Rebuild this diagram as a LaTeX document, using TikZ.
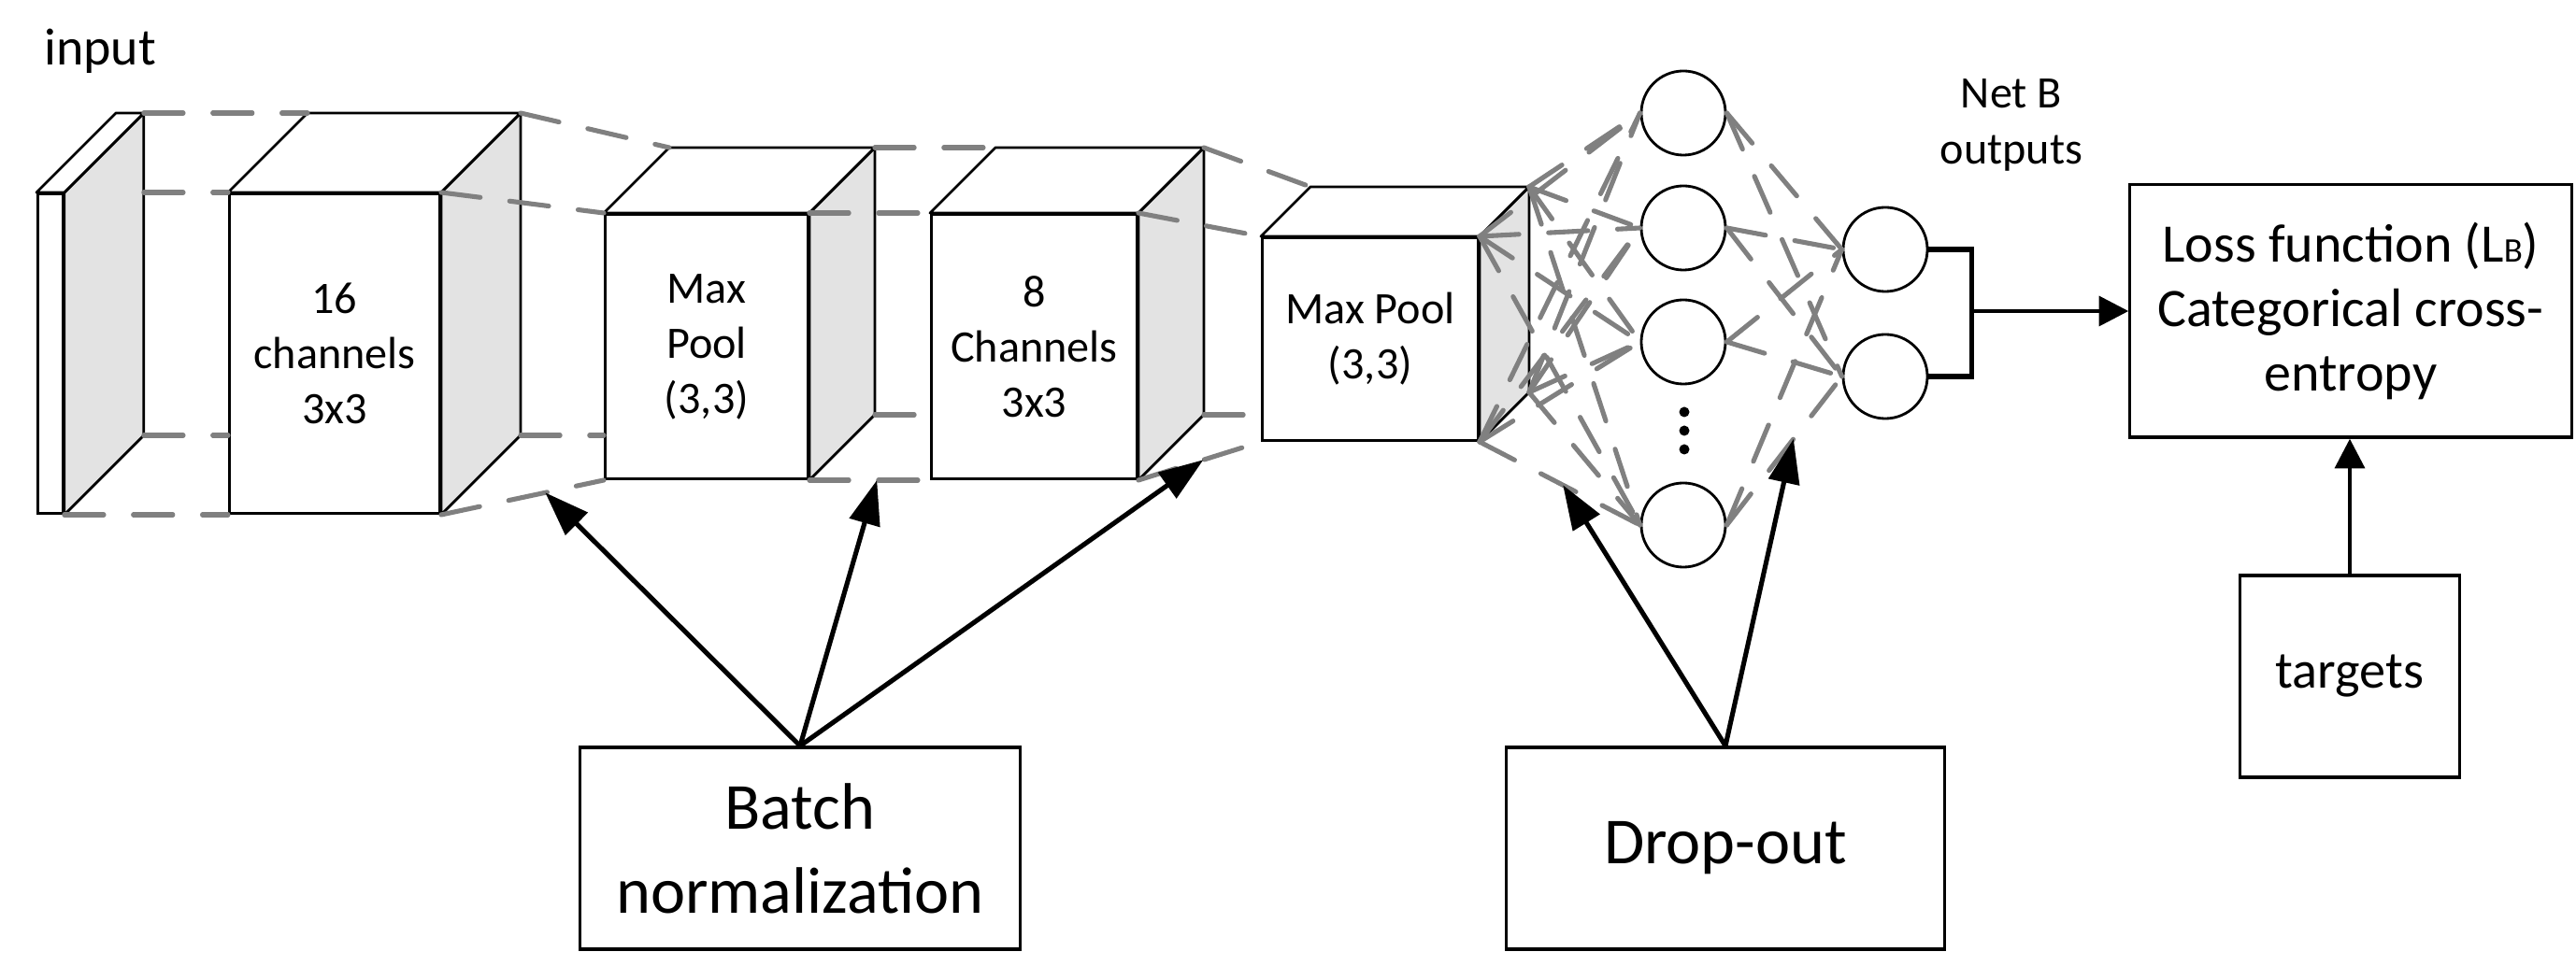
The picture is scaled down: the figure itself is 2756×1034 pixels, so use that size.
\documentclass[tikz,border=0pt]{standalone}
\usepackage{fontspec}
\setmainfont{Carlito}
\usetikzlibrary{arrows.meta}

\definecolor{linkgray}{RGB}{128,128,128}
\definecolor{sidegray}{RGB}{227,227,227}

\tikzset{
  face/.style={draw, line width=0.8pt, fill=white, inner sep=0pt, anchor=north west,
    align=center, font=\fontsize{13.7}{16.8}\selectfont},
  side/.style={draw, line width=0.8pt, fill=sidegray, line join=round},
  link/.style={draw=linkgray, line width=1.45pt, line cap=round, dash pattern=on 12pt off 9pt},
  neuron/.style={draw, circle, line width=0.8pt, minimum size=0.9cm, inner sep=0pt},
  dotnode/.style={circle, fill, minimum size=0.11cm, inner sep=0pt},
  box/.style={draw, line width=0.9pt, inner sep=0pt, align=center},
  push/.style={-{Triangle[length=13.5pt,width=9.4pt]}, line width=1.45pt},
  feed/.style={-{Triangle[length=9pt,width=9pt]}, line width=1.3pt},
}

% side and top of a layer: node name, depth
\newcommand{\layerback}[2]{%
  \draw[side] (#1.north east) -- ++(#2,-#2) coordinate (#1-btr)
    -- ([shift={(#2,-#2)}]#1.south east) coordinate (#1-bbr) -- (#1.south east) -- cycle;
  \draw[side, fill=white] (#1.north west) -- ++(#2,-#2) coordinate (#1-btl)
    -- (#1-btr) -- (#1.north east) -- cycle;
}

\begin{document}
\begin{tikzpicture}[x=0.01cm, y=-0.01cm]
	\useasboundingbox (0,0) rectangle (2756,1034);

	% layers
	\node[face, minimum width=0.27cm, minimum height=3.42cm] (in) at (39,206) {};
	\node[face, minimum width=2.25cm, minimum height=3.42cm] (c1) at (244,206) {16\\channels\\3x3};
	\node[face, minimum width=2.17cm, minimum height=2.83cm] (m1) at (646,228) {Max\\Pool\\(3,3)};
	\node[face, minimum width=2.20cm, minimum height=2.83cm] (c2) at (995,228) {8\\Channels\\3x3};
	\node[face, minimum width=2.31cm, minimum height=2.17cm] (m2) at (1349,253) {Max Pool\\(3,3)};
	\layerback{in}{85}
	\layerback{c1}{85}
	\layerback{m1}{70}
	\layerback{c2}{70}
	\layerback{m2}{53}

	\node[anchor=base west, font=\fontsize{15.9}{19}\selectfont] (inlabel) at (35,70) {input};

	% links between layers
	\draw[link] (in-btr) -- (c1-btl);
	\draw[link] (in-btr |- c1.north west) -- (c1.north west);
	\draw[link] (in-bbr) -- (c1.west |- in-bbr);
	\draw[link] (in.south east) -- (c1.south west);

	\draw[link] (c1-btr) -- (m1-btl);
	\draw[link] (c1.north east) -- (m1.north west);
	\draw[link] (c1-bbr) -- (m1.west |- c1-bbr);
	\draw[link] (c1.south east) -- coordinate[pos=.64] (b1) (m1.south west);

	\draw[link] (m1-btr) -- (c2-btl);
	\draw[link] (m1.north east) -- (c2.north west);
	\draw[link] (m1-bbr) -- (c2.west |- m1-bbr);
	\draw[link] (m1.south east) -- coordinate[pos=.56] (b2) (c2.south west);

	\draw[link] (c2-btr) -- (m2-btl);
	\draw[link] (c2.north east) -- (m2.north west);
	\draw[link] (c2-bbr) -- (m2.west |- c2-bbr);
	\draw[link] (c2.south east) -- coordinate[pos=.53] (b3) (m2.south west);

	% dense part
	\node[neuron] (h1) at (1801,121) {};
	\node[neuron] (h2) at (1801,244) {};
	\node[neuron] (h3) at (1801,366) {};
	\node[neuron] (h4) at (1801,562) {};
	\node[dotnode] (dot1) at (1802,441) {};
	\node[dotnode] (dot2) at (1802,461) {};
	\node[dotnode] (dot3) at (1802,481) {};
	\node[neuron] (o1) at (2017,267) {};
	\node[neuron] (o2) at (2017,403) {};

	\foreach \c in {m2-btr, m2.north east, m2-bbr, m2.south east}
		\foreach \h in {h1,h2,h3,h4}
			\draw[link] (\c) -- (\h.west);
	\foreach \h in {h1,h2,h3,h4}
		\foreach \o in {o1,o2}
			\draw[link] (\h.east) -- (\o.west);

	\path (m2.south east) -- coordinate[pos=.52] (d1) (h4.west);
	\path (h4.east) -- coordinate[pos=.58] (d2) (o2.west);

	\node[align=center, font=\fontsize{13.7}{17}\selectfont] (netb) at (2152,134) {Net B\\outputs};
	\draw[line width=1.5pt] (o1.east) -- ++(46,0) coordinate (fork) |- (o2.east);

	% boxes
	\node[box, minimum width=4.72cm, minimum height=2.70cm, font=\fontsize{16.5}{19.6}\selectfont] (loss) at (2515,333)
		{Loss function (L{\fontsize{10.5}{10}\selectfont B})\\Categorical cross-\\entropy};
	\node[box, minimum width=2.35cm, minimum height=2.16cm, font=\fontsize{16}{19}\selectfont] (targets) at (2514,724) {targets};
	\node[box, minimum width=4.70cm, minimum height=2.16cm, font=\fontsize{20}{25.6}\selectfont] (batch) at (856,908) {Batch\\normalization};
	\node[box, minimum width=4.68cm, minimum height=2.16cm, font=\fontsize{20}{25.6}\selectfont] (drop) at (1846,908) {Drop-out};

	\draw[feed] (fork |- loss.west) -- (loss.west);
	\draw[feed] (targets.north) -- (targets.north |- loss.south);

	\draw[push] (batch.north) -- (b1);
	\draw[push] (batch.north) -- (b2);
	\draw[push] (batch.north) -- (b3);
	\draw[push] (drop.north) -- (d1);
	\draw[push] (drop.north) -- (d2);
\end{tikzpicture}
\end{document}
